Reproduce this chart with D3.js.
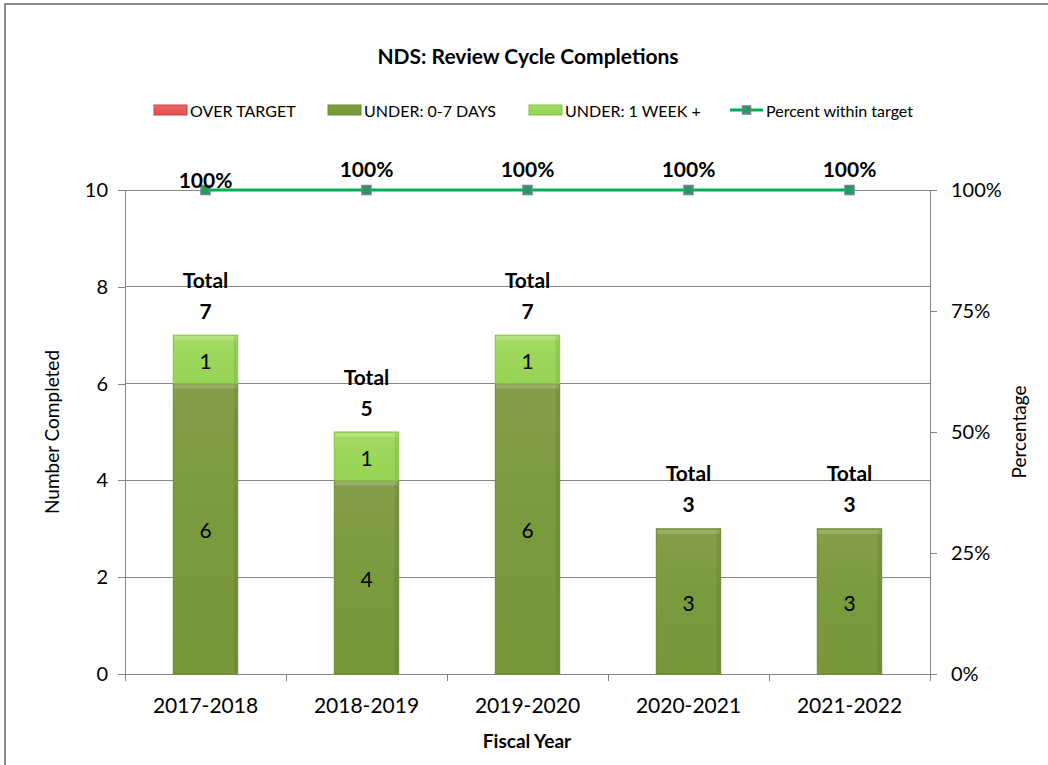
<!DOCTYPE html>
<html>
<head>
<meta charset="utf-8">
<script src="https://cdn.jsdelivr.net/npm/d3@7"></script>
<style>
  html, body { margin: 0; padding: 0; background: #fff; }
  svg { display: block; font-family: Lato, "Liberation Sans", sans-serif; }
</style>
</head>
<body>
<svg id="chart" width="1048" height="765"></svg>
<script>
const categories = ["2017-2018", "2018-2019", "2019-2020", "2020-2021", "2021-2022"];
const overTarget = [0, 0, 0, 0, 0];
const under07 = [6, 4, 6, 3, 3];
const under1wk = [1, 1, 1, 0, 0];
const pctWithin = [100, 100, 100, 100, 100];
const leftTicks = [0, 2, 4, 6, 8, 10];
const rightTicks = [0, 25, 50, 75, 100];
const seriesNames = ["OVER TARGET", "UNDER: 0-7 DAYS", "UNDER: 1 WEEK +", "Percent within target"];

const svg = d3.select("#chart");
const W = 1048, H = 765;
const m = { left: 125, right: 930, top: 190, bottom: 674 };
const axisColor = "#868686";
const cDark = "#7a9a3e", cLight = "#9bd75a", cRed = "#e8595b", cLine = "#00b050";
const fTick = 20, fLabel = 21;

// outer border
svg.append("rect").attr("x", 5).attr("y", 4).attr("width", W).attr("height", H)
  .attr("fill", "none").attr("stroke", "#8c8c8c").attr("stroke-width", 2);

const defs = svg.append("defs");
function grad(id, top, mid, bot) {
  const g = defs.append("linearGradient").attr("id", id).attr("x1", 0).attr("y1", 0).attr("x2", 0).attr("y2", 1);
  g.append("stop").attr("offset", "0").attr("stop-color", top);
  g.append("stop").attr("offset", "0.5").attr("stop-color", mid);
  g.append("stop").attr("offset", "1").attr("stop-color", bot);
}
grad("gDark", "#849f48", cDark, "#789739");
grad("gLight", "#a3dc64", cLight, "#96d455");
grad("gRed", "#ee6a6c", cRed, "#e04f51");

const x = d3.scaleBand().domain(categories).range([m.left, m.right]).paddingInner(0.6).paddingOuter(0.3);
const xc = d3.scalePoint().domain(categories).range([m.left, m.right]).padding(0.5);
const y = d3.scaleLinear().domain([0, 10]).range([m.bottom, m.top]);
const y2 = d3.scaleLinear().domain([0, 100]).range([m.bottom, m.top]);

// gridlines
svg.append("g").selectAll("line").data(leftTicks.filter(d => d > 0)).join("line")
  .attr("x1", m.left).attr("x2", m.right).attr("y1", d => y(d)).attr("y2", d => y(d))
  .attr("stroke", axisColor).attr("stroke-width", 1).attr("shape-rendering", "crispEdges");

// left axis
const gl = svg.append("g").attr("transform", `translate(${m.left},0)`)
  .call(d3.axisLeft(y).tickValues(leftTicks).tickSize(7).tickPadding(10).tickFormat(d3.format("d")));
// right axis
const gr = svg.append("g").attr("transform", `translate(${m.right},0)`)
  .call(d3.axisRight(y2).tickValues(rightTicks).tickSize(7).tickPadding(14).tickFormat(d => d + "%"));
// bottom axis
const gb = svg.append("g").attr("transform", `translate(0,${m.bottom})`)
  .call(d3.axisBottom(x).tickSize(0).tickPadding(24));
const bounds = d3.range(categories.length + 1).map(i => m.left + i * (m.right - m.left) / categories.length);
svg.append("g").selectAll("line").data(bounds).join("line")
  .attr("x1", d => d).attr("x2", d => d).attr("y1", m.bottom).attr("y2", m.bottom + 7)
  .attr("stroke", axisColor).attr("shape-rendering", "crispEdges");

[gl, gr].forEach(g => {
  g.selectAll("path, line").attr("stroke", axisColor).attr("shape-rendering", "crispEdges");
  g.selectAll("text").attr("font-size", fTick).attr("fill", "#000").attr("font-family", "Lato, sans-serif");
});
gb.selectAll("path, line").attr("stroke", axisColor).attr("shape-rendering", "crispEdges");
gb.selectAll("text").attr("font-size", fLabel).attr("fill", "#000").attr("font-family", "Lato, sans-serif");
gb.select("path.domain").attr("d", `M${m.left},0.5H${m.right}`);

// stacked bars
const stackData = categories.map((c, i) => ({ cat: c, over: overTarget[i], d07: under07[i], w1: under1wk[i] }));
const stack = d3.stack().keys(["d07", "w1", "over"])(stackData);
const fills = { d07: "url(#gDark)", w1: "url(#gLight)", over: "url(#gRed)" };
const strokes = { d07: "#6a8832", w1: "#86c042", over: "#c94446" };
const gBars = svg.append("g");
stack.forEach(layer => {
  const key = layer.key;
  layer.forEach(seg => {
    const v = seg[1] - seg[0];
    if (v <= 0) return;
    const cat = seg.data.cat;
    const x0 = x(cat), bw = x.bandwidth();
    const yt = y(seg[1]), yb = y(seg[0]);
    gBars.append("rect").attr("x", x0).attr("y", yt).attr("width", bw).attr("height", yb - yt)
      .attr("fill", fills[key]).attr("stroke", strokes[key]).attr("stroke-width", 1);
    gBars.append("rect").attr("x", x0 + 1).attr("y", yt + 1).attr("width", bw - 2).attr("height", 4)
      .attr("fill", "#ffffff").attr("opacity", 0.18);
    gBars.append("rect").attr("x", x0 + bw - 4).attr("y", yt + 1).attr("width", 3).attr("height", yb - yt - 2)
      .attr("fill", "#000").attr("opacity", 0.08);
    gBars.append("text").attr("x", x0 + bw / 2).attr("y", (yt + yb) / 2 + 1)
      .attr("text-anchor", "middle").attr("dominant-baseline", "central")
      .attr("font-size", fLabel).attr("fill", "#000").text(v);
  });
});

// totals
const totals = categories.map((c, i) => overTarget[i] + under07[i] + under1wk[i]);
const gTot = svg.append("g");
categories.forEach((c, i) => {
  const cx = xc(c), yt = y(totals[i]);
  gTot.append("text").attr("x", cx).attr("y", yt - 56).attr("text-anchor", "middle").attr("dominant-baseline", "central")
    .attr("font-size", fLabel).attr("font-weight", "bold").text("Total");
  gTot.append("text").attr("x", cx).attr("y", yt - 25).attr("text-anchor", "middle").attr("dominant-baseline", "central")
    .attr("font-size", fLabel).attr("font-weight", "bold").text(totals[i]);
});

// percent line
const line = d3.line().x((d, i) => xc(categories[i])).y(d => y2(d));
svg.append("path").datum(pctWithin).attr("d", line).attr("fill", "none")
  .attr("stroke", cLine).attr("stroke-width", 3);
svg.append("g").selectAll("rect").data(pctWithin).join("rect")
  .attr("x", (d, i) => xc(categories[i]) - 4.5).attr("y", d => y2(d) - 4.5)
  .attr("width", 9).attr("height", 9).attr("fill", "#1fa05a").attr("stroke", "#7a7a9a").attr("stroke-width", 1.5);
svg.append("g").selectAll("text").data(pctWithin).join("text")
  .attr("x", (d, i) => xc(categories[i])).attr("y", (d, i) => y2(d) - (i === 0 ? 11 : 22))
  .attr("text-anchor", "middle").attr("dominant-baseline", "central")
  .attr("font-size", fLabel).attr("font-weight", "bold").text(d => d + "%");

// title
svg.append("text").attr("x", 528).attr("y", 55).attr("text-anchor", "middle").attr("dominant-baseline", "central")
  .attr("font-size", 21).attr("font-weight", "bold").text("NDS: Review Cycle Completions");

// axis titles
svg.append("text").attr("transform", "translate(51,432) rotate(-90)").attr("text-anchor", "middle")
  .attr("dominant-baseline", "central").attr("font-size", 19).text("Number Completed");
svg.append("text").attr("transform", "translate(1018,432) rotate(-90)").attr("text-anchor", "middle")
  .attr("dominant-baseline", "central").attr("font-size", 19).text("Percentage");
svg.append("text").attr("x", 527).attr("y", 740).attr("text-anchor", "middle").attr("dominant-baseline", "central")
  .attr("font-size", 19).attr("font-weight", "bold").text("Fiscal Year");

// legend
const legX = [154, 328, 529, 730];
const gLeg = svg.append("g");
const swFill = ["url(#gRed)", "url(#gDark)", "url(#gLight)"];
const swStroke = [strokes.over, strokes.d07, strokes.w1];
seriesNames.forEach((name, i) => {
  const lx = legX[i], ly = 110;
  if (i < 3) {
    gLeg.append("rect").attr("x", lx).attr("y", ly - 5).attr("width", 33).attr("height", 10)
      .attr("fill", swFill[i]).attr("stroke", swStroke[i]);
  } else {
    gLeg.append("line").attr("x1", lx).attr("x2", lx + 33).attr("y1", ly).attr("y2", ly)
      .attr("stroke", cLine).attr("stroke-width", 3);
    gLeg.append("rect").attr("x", lx + 12.5).attr("y", ly - 4).attr("width", 8).attr("height", 8)
      .attr("fill", "#1fa05a").attr("stroke", "#7a7a9a").attr("stroke-width", 1.5);
  }
  gLeg.append("text").attr("x", lx + 36).attr("y", ly).attr("dominant-baseline", "central")
    .attr("font-size", 16).text(name);
});
</script>
</body>
</html>
